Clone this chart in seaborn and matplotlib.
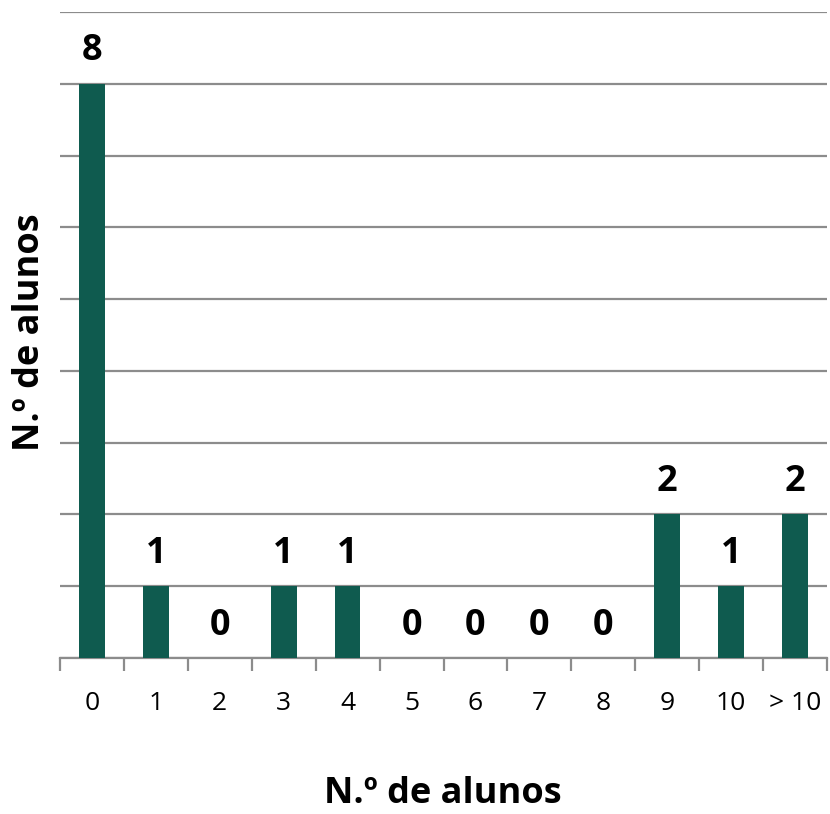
import pandas as pd
import matplotlib
matplotlib.use("Agg")
import matplotlib.pyplot as plt
import seaborn as sns


# =====================
# DATA
# =====================

categories = ["0", "1", "2", "3", "4", "5", "6", "7", "8", "9", "10", "> 10"]
counts = [8, 1, 0, 1, 1, 0, 0, 0, 0, 2, 1, 2]

df = pd.DataFrame({"cat": categories, "n": counts})


# =====================
# STYLE
# =====================

sns.set_style("white")
plt.rcParams["font.family"] = ["Open Sans", "DejaVu Sans"]
plt.rcParams["text.color"] = "black"
plt.rcParams["xtick.color"] = "black"

bar_color = "#0f5b4f"
grid_color = "#8c8c8c"


# =====================
# PLOT
# =====================

fig = plt.figure(figsize=(8.3, 8.14), dpi=100)
ax = fig.add_axes([0.0723, 0.1916, 0.9241, 0.7937])

sns.barplot(
    data=df,
    x="cat",
    y="n",
    color=bar_color,
    width=0.4,
    saturation=1,
    edgecolor="none",
    ax=ax,
    zorder=3
)

ax.set_xlim(-0.5, len(categories) - 0.5)
ax.set_ylim(0, 9)

# horizontal gridlines
ax.set_yticks(range(0, 10))
ax.set_yticklabels([])
ax.yaxis.grid(True, color=grid_color, linewidth=1.6, zorder=0)
ax.tick_params(axis="y", length=0)

# value labels
for i, v in enumerate(counts):
    ax.text(
        i, v + 0.2, str(v),
        ha="center", va="bottom",
        fontsize=26, fontweight="bold", color="black"
    )

# x axis ticks at category boundaries
ax.set_xticks([i - 0.5 for i in range(len(categories) + 1)], minor=True)
ax.set_xticks(range(len(categories)))
ax.set_xticklabels(categories, fontsize=19)
ax.tick_params(axis="x", which="major", length=0, pad=24, labelcolor="black")
ax.tick_params(axis="x", which="minor", bottom=True, length=9, width=1.6,
               color=grid_color, direction="out")

for s in ["top", "right", "left"]:
    ax.spines[s].set_visible(False)
ax.spines["bottom"].set_color(grid_color)
ax.spines["bottom"].set_linewidth(1.6)

ax.set_xlabel("")
ax.set_ylabel("")
fig.text(0.534, 0.024, "N.º de alunos", fontsize=26, fontweight="bold",
         ha="center", va="center")
fig.text(0.036, 0.592, "N.º de alunos", fontsize=26, fontweight="bold",
         ha="center", va="center", rotation=90)

plt.savefig("out.png", dpi=100)
plt.close()
